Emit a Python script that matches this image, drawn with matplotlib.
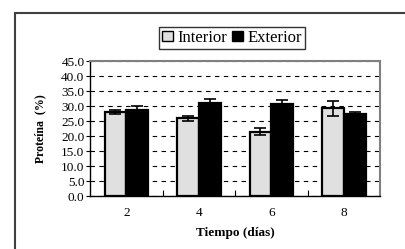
import numpy as np
import matplotlib.pyplot as plt
from matplotlib.patches import Rectangle, Patch

plt.rcParams['font.family'] = ['Liberation Serif', 'DejaVu Serif']

days = ['2', '4', '6', '8']
interior = [28.1, 25.9, 21.4, 29.2]
interior_err = [0.6, 0.8, 1.2, 2.5]
exterior = [28.7, 30.9, 30.6, 27.2]
exterior_err = [1.2, 1.5, 1.3, 0.9]

W, H = 405, 249
fig = plt.figure(figsize=(W / 100, H / 100), dpi=100)

# outer chart frame (runs off the right/bottom edge)
fig.patches.append(Rectangle((15 / W, -0.1), 1.2, 1 - 13 / H + 0.1,
                             transform=fig.transFigure, fill=False,
                             edgecolor='#404040', linewidth=1.5))

ax = fig.add_axes([90 / W, 1 - 196 / H, 290 / W, 135 / H])

x = np.arange(len(days))
bw = 0.3
ekw = dict(elinewidth=1.2, capthick=1.2)
ax.bar(x - bw / 2, interior, bw, yerr=interior_err, color='#e0e0e0',
       edgecolor='black', linewidth=1.6, capsize=4.5, error_kw=ekw, zorder=3)
ax.bar(x + bw / 2, exterior, bw, yerr=exterior_err, color='black',
       edgecolor='black', linewidth=1.6, capsize=4.5, error_kw=ekw, zorder=3)

ax.set_xlim(-0.5, len(days) - 0.5)
ax.set_ylim(0, 45)
ax.set_yticks(np.arange(0, 46, 5))
ax.set_yticklabels([f'{v:.1f}' for v in np.arange(0, 46, 5)], fontsize=9.5)
ax.set_xticks(x)
ax.set_xticklabels(days, fontsize=9.5)
ax.tick_params(axis='x', length=0, pad=8)
ax.set_xticks(np.arange(0.5, len(days) - 0.5, 1), minor=True)
ax.tick_params(axis='x', which='minor', direction='in', length=4, width=0.8)
ax.tick_params(axis='y', length=3, width=0.8, pad=1)

ax.yaxis.grid(True, linestyle=(0, (4, 4)), color='black', linewidth=0.8, zorder=0)
for s in ['top', 'right']:
    ax.spines[s].set_color('#808080')
    ax.spines[s].set_linewidth(1.5)
ax.spines['left'].set_linewidth(1.0)
ax.spines['bottom'].set_linewidth(1.0)

ax.set_xlabel('Tiempo (días)', fontsize=9.5, fontweight='bold', labelpad=6)
ax.set_ylabel('Proteína  (%)', fontsize=8.5, fontweight='bold')
ax.yaxis.set_label_coords(-(90 - 46) / 290, 0.5)

handles = [Patch(facecolor='#e0e0e0', edgecolor='black', linewidth=1.0),
           Patch(facecolor='black', edgecolor='black')]
fig.legend(handles, ['Interior', 'Exterior'], loc='center',
           bbox_to_anchor=(232 / W, 1 - 38 / H), ncol=2, fontsize=12,
           frameon=True, fancybox=False, edgecolor='black',
           handlelength=0.65, handleheight=0.6, handletextpad=0.25,
           columnspacing=0.3, borderpad=0.2, borderaxespad=0)

fig.savefig('out.png', dpi=100)
